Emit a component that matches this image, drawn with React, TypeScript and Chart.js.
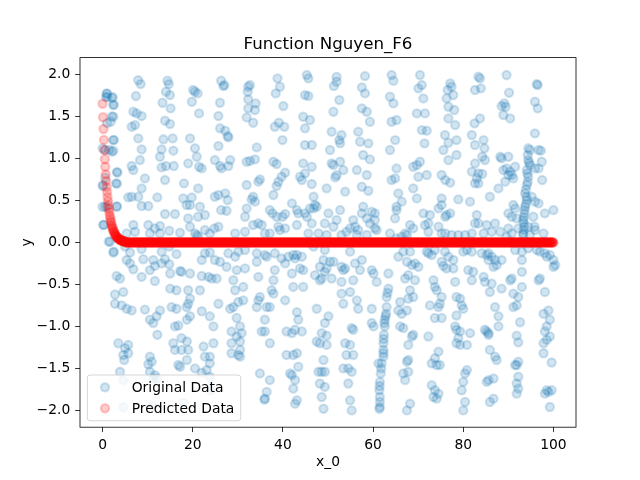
import React, { useEffect, useRef } from "react";
import { Chart, registerables } from "chart.js";

Chart.register(...registerables);

const TITLE = "Function Nguyen_F6";
const X_LABEL = "x_0";
const Y_LABEL = "y";
const LEGEND_LABELS = ["Original Data", "Predicted Data"];
const X_TICKS = [0, 20, 40, 60, 80, 100];
const Y_TICKS = [-2.0, -1.5, -1.0, -0.5, 0.0, 0.5, 1.0, 1.5, 2.0];
const X_RANGE = [-5, 105];
const Y_RANGE = [-2.2, 2.2];

// Original data, read strip by strip (x, y)
const ORIGINAL_A: [number, number][] = [
  [7.9,1.93],[8.45,1.885],[14.4,1.925],[14.7,1.885],[0.91,1.774],[0.76,1.73],[2.24,1.73],[2.4,1.635],[7.4,1.742],[14.07,1.794],
  [14.95,1.754],[13.3,1.663],[15.1,1.596],[6.83,1.556],[7.56,1.536],[8.67,1.504],[2.39,1.496],[1.8,1.437],[6.46,1.377],[7.2,1.397],
  [13.85,1.449],[14.95,1.409],[2.39,1.218],[7.93,1.238],[13.5,1.227],[15.55,1.238],[1.5,1.1],[2.39,1.092],[8.67,1.107],[13.1,1.107],
  [15.7,1.092],[12.74,1.02],[8.3,0.98],[6.46,0.909],[6.83,0.861],[13.1,0.893],[14.07,0.909],[15.8,0.909],[3.28,0.83],[9.4,0.762],
  [13.85,0.742],[3.0,0.703],[0.17,0.671],[8.67,0.643],[18.06,0.703],[5.7,0.536],[6.46,0.544],[7.93,0.544],[12.15,0.536],[17.9,0.524],
  [0.54,0.425],[3.13,0.425],[8.67,0.433],[10.15,0.433],[18.65,0.445],[13.85,0.338],[16.06,0.338],[0.17,0.207],[6.83,0.207],[10.15,0.207],
  [11.6,0.167],[12.74,0.195],[7.2,0.127],[10.5,0.107],[12.74,0.107],[14.8,0.139],[17.2,0.115],[1.65,0.008],[5.35,0.107],[5.0,-0.05],
  [6.1,-0.12],[2.39,-0.12],[8.67,-0.08],[14.8,-0.05],[13.1,-0.11],[16.4,-0.14],[5.35,-0.21],[13.85,-0.2],[11.26,-0.21],[6.1,-0.25],
  [9.04,-0.2],[13.1,-0.25],[14.8,-0.26],[6.83,-0.32],[10.5,-0.33],[11.6,-0.28],[17.5,-0.35],[3.13,-0.4],[3.87,-0.43],[8.67,-0.41],
  [11.6,-0.46],[15.0,-0.37],[17.2,-0.34],[15.0,-0.55],[16.4,-0.57],[4.6,-0.59],[2.76,-0.62],[2.76,-0.73],[4.24,-0.75],[5.35,-0.79],
  [6.46,-0.81],[9.4,-0.8],[12.74,-0.81],[15.3,-0.77],[16.4,-0.79],[18.65,-0.77],[10.5,-0.92],[11.26,-0.96],[12.0,-0.88],[16.06,-1.0],
  [16.8,-0.99],[12.15,-1.1],[17.5,-1.14],[3.5,-1.2],[5.7,-1.22],[5.0,-1.26],[15.7,-1.2],[16.06,-1.28],[17.5,-1.28],[4.6,-1.34],
  [5.7,-1.32],[10.5,-1.36],[10.9,-1.42],[10.15,-1.45],[16.8,-1.46],[3.87,-1.54],[10.5,-1.54],[11.6,-1.58],[4.6,-1.64],[11.26,-1.62],
  [4.6,-1.96],[4.8,-1.4],[12.1,-1.62],[17.2,-1.48],[20.5,-1.5],[22.0,-1.55],[24.0,-1.76],[18.0,-1.91],[11.0,-1.95],
  [1.0,1.77],[1.05,1.73],[2.1,1.72],[2.47,1.64],[2.1,1.5],[1.0,1.42],[0.0,1.12],[0.6,1.1],[2.1,1.08],[2.47,1.22],
  [0.0,0.68],[0.6,0.77],[3.2,0.84],[3.2,0.7],[0.0,0.425],[1.0,0.425],[3.2,0.43],[0.25,0.21],[1.36,0.01],[2.5,-0.11]
];

const ORIGINAL_B: [number, number][] = [
  [20.1,1.814],[20.5,1.794],[21.1,1.774],[19.8,1.675],[21.4,1.536],[26.3,1.925],[27.0,1.873],[26.8,1.86],[26.05,1.663],[25.7,1.504],
  [26.05,1.358],[27.2,1.33],[27.75,1.266],[27.9,1.25],[32.3,1.853],[32.7,1.873],[32.2,1.794],[32.3,1.703],[33.96,1.655],[33.8,1.576],
  [32.3,1.596],[31.96,1.488],[33.4,1.425],[38.8,1.953],[39.35,1.853],[38.4,1.774],[40.1,1.623],[39.1,1.425],[38.2,1.377],[40.3,1.377],
  [39.9,1.218],[19.4,1.238],[20.5,1.12],[20.9,1.02],[21.4,0.901],[22.0,0.881],[19.0,0.941],[25.7,1.147],[24.9,0.98],[26.05,0.909],
  [26.4,0.881],[27.9,0.909],[28.3,0.98],[34.2,1.131],[33.8,0.988],[31.96,0.96],[32.7,0.97],[37.9,0.96],[38.6,0.933],[40.5,0.83],
  [39.7,0.782],[39.0,0.722],[38.6,0.671],[21.2,0.643],[19.8,0.536],[19.4,0.445],[21.6,0.425],[22.7,0.326],[21.2,0.306],[24.9,0.544],
  [25.7,0.564],[27.2,0.584],[27.75,0.504],[26.3,0.385],[27.5,0.377],[31.96,0.683],[33.4,0.544],[33.8,0.485],[33.05,0.512],[31.96,0.405],
  [31.6,0.306],[34.55,0.723],[34.9,0.75],[37.9,0.564],[37.1,0.385],[37.7,0.346],[38.6,0.306],[40.5,0.338],[39.9,0.306],[19.0,0.286],
  [19.4,0.187],[20.5,0.107],[20.9,0.088],[21.2,0.068],[22.7,0.147],[23.8,0.107],[24.8,0.167],[25.7,0.187],[29.4,0.107],[31.6,0.127],
  [33.4,0.207],[34.55,0.227],[35.3,0.207],[36.0,0.107],[37.1,0.107],[39.0,0.187],[39.35,0.147],[40.5,0.167],[22.7,-0.13],[22.0,-0.21],
  [23.8,-0.12],[24.9,-0.21],[26.05,-0.23],[27.9,-0.13],[29.4,-0.17],[30.1,-0.11],[31.6,-0.09],[34.2,-0.13],[36.0,-0.15],[36.4,-0.17],
  [38.2,-0.13],[39.7,-0.19],[41.2,-0.17],[27.5,-0.29],[29.75,-0.33],[31.6,-0.31],[34.2,-0.23],[38.2,-0.33],[40.5,-0.25],[23.5,-0.41],
  [24.2,-0.43],[25.3,-0.43],[22.0,-0.4],[29.0,-0.45],[29.4,-0.57],[31.2,-0.53],[34.55,-0.41],[37.9,-0.45],[37.5,-0.57],[37.9,-0.61],
  [19.4,-0.37],[19.0,-0.57],[19.4,-0.67],[19.0,-0.73],[21.6,-0.57],[25.7,-0.73],[28.3,-0.79],[29.0,-0.77],[30.1,-0.71],[31.2,-0.69],
  [34.2,-0.77],[34.55,-0.69],[34.9,-0.65],[36.4,-0.77],[37.1,-0.77],[40.5,-0.69],[19.4,-0.88],[18.7,-0.92],[22.0,-0.82],[23.8,-0.88],
  [29.75,-0.9],[30.5,-1.0],[30.85,-1.08],[28.6,-1.06],[29.75,-1.12],[30.5,-1.18],[28.6,-1.2],[30.5,-1.28],[30.1,-1.34],[30.5,-1.36],
  [28.6,-1.32],[36.0,-0.92],[35.3,-1.06],[36.0,-1.06],[37.1,-1.2],[24.6,-1.0],[18.7,-1.18],[19.0,-1.28],[18.7,-1.4],[22.4,-1.24],
  [22.7,-1.36],[23.8,-1.36],[24.6,-1.2],[23.8,-1.44],[23.1,-1.52],[23.8,-1.6],[40.8,-1.06],[40.8,-1.34],[41.6,-1.56],[34.9,-1.56],
  [37.1,-1.64],[36.4,-1.78],[36.0,-1.86],[35.9,-1.87]
];

const ORIGINAL_C: [number, number][] = [
  [45.3,1.992],[45.65,1.953],[44.9,1.754],[45.65,1.742],[44.5,1.496],[44.9,1.358],[46.0,1.457],[44.9,1.159],[46.4,1.159],[44.5,0.941],
  [46.4,0.901],[44.2,0.742],[43.8,0.782],[44.9,0.822],[46.4,0.695],[51.9,1.97],[51.9,1.913],[51.3,1.861],[52.5,1.695],[51.2,1.556],
  [50.8,1.318],[53.0,1.278],[52.5,1.218],[52.7,1.179],[50.45,1.1],[50.8,0.941],[51.2,0.921],[52.7,0.96],[51.9,0.8],[51.6,0.774],
  [53.4,0.861],[53.8,0.604],[49.7,0.643],[58.2,1.98],[57.5,1.845],[58.2,1.774],[57.5,1.596],[58.6,1.556],[59.3,1.437],[56.7,1.318],
  [57.1,1.199],[58.95,1.179],[57.8,1.04],[59.3,0.988],[56.4,0.861],[58.6,0.802],[57.5,0.663],[58.95,0.615],[64.1,1.992],[64.5,1.925],
  [63.75,1.734],[64.5,1.655],[64.1,1.437],[65.2,1.457],[63.75,1.1],[64.9,1.218],[65.2,0.881],[64.1,0.742],[64.9,0.762],[65.6,0.584],
  [46.8,0.544],[47.1,0.445],[47.5,0.425],[46.8,0.405],[46.0,0.405],[44.9,0.346],[45.3,0.306],[43.4,0.346],[43.1,0.207],[46.4,0.226],
  [49.3,0.226],[50.1,0.346],[51.9,0.266],[52.7,0.385],[51.2,0.187],[54.1,0.127],[53.0,0.088],[54.9,0.167],[56.0,0.187],[56.7,0.147],
  [57.8,0.425],[57.5,0.346],[59.7,0.365],[60.4,0.346],[58.6,0.286],[60.4,0.266],[59.3,0.226],[60.4,0.167],[58.6,0.088],[56.4,0.088],
  [60.8,0.147],[55.6,0.266],[43.1,0.385],[42.0,0.465],[63.75,0.107],[65.2,0.385],[45.65,0.107],[47.9,0.107],[49.7,0.088],[42.3,-0.15],
  [43.1,-0.15],[44.2,-0.17],[42.7,-0.19],[46.8,-0.05],[49.3,-0.09],[50.45,-0.23],[51.2,-0.23],[49.0,-0.21],[48.2,-0.29],[49.7,-0.31],
  [49.3,-0.35],[44.5,-0.33],[43.8,-0.31],[47.1,-0.39],[48.2,-0.45],[48.6,-0.43],[50.8,-0.43],[53.0,-0.29],[53.4,-0.33],[53.8,-0.31],
  [54.9,-0.11],[56.0,-0.25],[55.6,-0.45],[57.1,-0.33],[57.5,-0.21],[59.7,-0.33],[60.1,-0.37],[60.8,-0.47],[53.0,-0.47],[42.0,-0.37],
  [42.3,-0.53],[44.5,-0.53],[63.4,-0.37],[63.4,-0.55],[63.0,-0.65],[63.0,-0.77],[62.9,-0.85],[62.6,-0.92],[62.6,-1.0],[62.4,-1.1],
  [62.3,-1.2],[62.3,-1.28],[62.3,-1.36],[61.9,-1.44],[61.7,-1.56],[61.5,-1.66],[61.4,-1.76],[61.5,-1.84],[61.5,-1.96],[61.4,-1.98],
  [63.2,-0.6],[62.75,-0.88],[62.5,-0.96],[62.35,-1.15],[62.3,-1.32],[61.8,-1.5],[61.45,-1.71],[61.5,-1.9],
  [59.7,-0.79],[59.7,-0.96],[60.1,-1.0],[61.2,-1.44],[53.0,-0.61],[53.4,-0.73],
  [54.9,-0.59],[56.4,-0.69],[56.7,-0.79],[55.25,-1.02],[55.6,-1.04],[53.8,-1.2],[54.9,-1.22],[54.1,-1.34],[55.6,-1.34],[54.5,-1.5],
  [55.25,-1.54],[54.5,-1.68],[54.9,-1.88],[55.25,-2.0],[53.4,-1.5],[47.5,-0.79],[50.1,-0.88],[49.3,-0.96],[48.6,-1.08],[49.7,-1.11],
  [49.7,-1.22],[48.2,-1.2],[47.5,-1.18],[49.0,-1.4],[47.9,-1.54],[48.6,-1.54],[49.3,-1.54],[48.2,-1.68],[49.3,-1.72],[48.6,-1.84],
  [49.0,-1.98],[43.1,-0.83],[43.4,-0.92],[42.7,-1.04],[44.2,-1.06],[42.0,-1.08],[42.3,-1.34],[43.1,-1.32],[43.4,-1.48],[42.0,-1.58],
  [42.7,-1.64],[42.3,-1.74],[43.1,-1.88],[42.7,-1.92]
];

const ORIGINAL_D: [number, number][] = [
  [70.4,1.992],[70.8,1.873],[70.04,1.834],[71.15,1.714],[69.7,1.536],[71.5,1.536],[70.8,1.337],[71.9,1.33],[71.4,1.179],[77.1,1.893],
  [77.4,1.853],[76.55,1.814],[77.8,1.754],[76.3,1.714],[76.7,1.615],[78.0,1.576],[76.7,1.476],[78.2,1.397],[75.95,1.278],[78.5,1.218],
  [76.7,1.187],[75.6,1.1],[78.5,1.04],[76.7,0.98],[83.35,1.973],[83.7,1.953],[82.6,1.814],[83.9,1.834],[83.7,1.476],[82.5,1.417],
  [81.9,1.278],[84.5,1.218],[82.6,1.159],[84.7,1.12],[84.2,1.02],[82.6,0.941],[81.9,0.842],[83.35,0.822],[84.2,0.814],[83.0,0.762],
  [82.6,0.703],[83.35,0.703],[84.8,0.981],[66.35,0.485],[65.2,0.425],[64.87,0.286],[68.9,0.901],[69.7,0.921],[70.4,0.96],[70.04,0.782],
  [71.9,0.802],[68.9,0.643],[69.7,0.524],[75.2,0.802],[76.0,0.742],[77.1,0.711],[75.2,0.524],[75.2,0.445],[76.3,0.326],[77.1,0.346],
  [76.0,0.306],[78.9,0.512],[81.5,0.485],[74.5,0.405],[71.15,0.346],[72.6,0.326],[72.26,0.226],[71.5,0.207],[68.2,0.207],[68.9,0.167],
  [67.1,0.107],[66.35,0.068],[67.5,0.088],[65.2,0.048],[72.26,0.127],[74.5,0.187],[75.2,0.107],[76.0,0.107],[77.4,0.088],[78.9,0.088],
  [80.4,0.088],[81.9,0.107],[82.6,0.226],[83.35,0.226],[85.2,0.207],[84.5,0.107],[83.0,0.326],[65.6,-0.17],[66.7,-0.11],[68.2,-0.11],
  [67.5,-0.23],[69.3,-0.25],[70.04,-0.29],[68.6,-0.27],[71.9,-0.11],[72.26,-0.13],[73.0,-0.15],[73.7,-0.09],[75.95,-0.11],[76.7,-0.17],
  [77.8,-0.21],[75.2,-0.23],[75.6,-0.28],[76.3,-0.31],[77.8,-0.31],[80.0,-0.11],[80.8,-0.09],[81.9,-0.11],[84.1,-0.13],[85.2,-0.15],
  [85.6,-0.21],[81.1,-0.33],[82.2,-0.35],[81.9,-0.45],[84.5,-0.41],[84.8,-0.47],[67.8,-0.39],[67.1,-0.43],[69.3,-0.45],[68.2,-0.57],
  [68.9,-0.65],[67.8,-0.67],[67.5,-0.81],[73.4,-0.45],[73.7,-0.53],[74.1,-0.57],[75.2,-0.65],[74.8,-0.73],[74.5,-0.77],[73.7,-0.9],
  [75.2,-0.9],[72.6,-0.75],[78.2,-0.47],[78.5,-0.65],[79.3,-0.67],[79.65,-0.75],[80.0,-0.79],[78.5,-0.87],[78.2,-1.0],[66.0,-0.71],
  [65.6,-0.81],[66.35,-0.85],[78.5,-1.04],[79.3,-1.06],[81.5,-1.08],[78.9,-1.14],[79.3,-1.22],[78.5,-1.2],[80.8,-1.22],[66.0,-1.0],
  [66.7,-1.02],[68.9,-1.1],[68.6,-1.12],[72.26,-1.12],[67.8,-1.22],[84.8,-1.04],[85.6,-1.08],[67.8,-1.4],[67.5,-1.42],[73.0,-1.44],
  [74.1,-1.46],[74.8,-1.46],[73.7,-1.38],[74.5,-1.3],[66.7,-1.56],[67.8,-1.54],[67.1,-1.64],[80.4,-1.56],[80.8,-1.52],[80.0,-1.66],
  [79.65,-1.76],[80.4,-1.9],[80.0,-2.0],[73.0,-1.7],[73.7,-1.76],[73.4,-1.84],[74.1,-1.86],[74.5,-1.8],[68.2,-1.92],[67.5,-2.0],
  [85.2,-1.66]
];

const ORIGINAL_E: [number, number][] = [
  [89.6,1.992],[90.15,1.782],[89.1,1.655],[88.5,1.623],[89.4,1.615],[88.9,1.516],[90.4,1.476],[96.3,1.885],[96.5,1.873],[95.9,1.675],
  [96.5,1.596],[95.9,1.298],[88.2,1.02],[88.5,1.0],[90.0,1.02],[88.9,0.861],[89.6,0.881],[90.0,0.802],[90.75,0.802],[91.1,0.762],
  [91.5,0.901],[90.4,0.842],[89.3,0.723],[87.8,0.643],[85.9,0.544],[94.4,1.12],[94.8,1.1],[94.3,1.04],[94.4,0.98],[94.8,0.921],
  [94.1,0.861],[94.4,0.782],[94.1,0.683],[93.7,0.584],[94.1,0.504],[93.7,0.425],[93.55,0.346],[93.3,0.266],[93.55,0.187],[93.3,0.107],
  [93.9,0.63],[94.0,0.54],[93.9,0.46],[93.6,0.385],[93.45,0.3],[93.4,0.23],[93.4,0.15],[94.2,0.82],[94.3,0.72],[94.6,0.95],
  [96.7,1.1],[97.2,1.092],[97.4,0.96],[96.7,0.881],[95.9,0.881],[97.5,0.742],[95.9,0.485],[96.7,0.465],[95.2,0.544],[95.55,0.306],
  [95.8,0.187],[95.9,0.147],[98.1,0.346],[100.0,0.385],[97.8,0.107],[91.1,0.445],[91.5,0.405],[90.0,0.346],[90.75,0.306],[91.85,0.286],
  [87.05,0.226],[88.2,0.127],[86.3,0.127],[90.0,0.167],[90.75,0.107],[89.6,0.068],[92.2,0.167],[93.3,0.088],[94.8,0.088],[94.4,0.187],
  [85.6,-0.13],[86.3,-0.17],[87.05,-0.21],[86.7,-0.29],[87.4,-0.27],[88.5,-0.21],[91.5,-0.09],[93.0,-0.11],[93.0,-0.21],[94.4,-0.07],
  [96.3,-0.09],[97.0,-0.11],[98.1,-0.13],[98.5,-0.17],[99.2,-0.15],[100.0,-0.21],[100.4,-0.27],[100.0,-0.29],[90.75,-0.43],[90.4,-0.45],
  [93.0,-0.35],[93.0,-0.53],[97.0,-0.43],[96.7,-0.45],[98.1,-0.59],[88.5,-0.55],[86.3,-0.49],[85.9,-0.59],[91.1,-0.61],[92.2,-0.65],
  [91.85,-0.75],[91.1,-0.77],[87.05,-0.77],[87.8,-0.88],[87.8,-1.0],[92.6,-0.95],[91.85,-1.11],[92.2,-1.19],[98.9,-0.81],[97.8,-0.85],
  [99.2,-0.92],[98.5,-1.0],[98.1,-1.06],[99.2,-1.12],[97.8,-1.2],[98.5,-1.16],[85.2,-1.06],[85.6,-1.1],[85.9,-1.28],[87.05,-1.36],
  [87.4,-1.4],[85.6,-1.64],[86.7,-1.62],[92.2,-1.42],[91.85,-1.46],[91.5,-1.46],[92.2,-1.6],[91.85,-1.68],[92.2,-1.74],[91.85,-1.8],
  [97.8,-1.32],[99.6,-1.43],[98.5,-1.76],[98.9,-1.78],[99.6,-1.76],[99.2,-1.96],[98.1,-1.8],[85.9,-1.9],[86.7,-1.86]
];

// Predicted data: fast decay near x = 0, then flat at 0
const PREDICTED_HEAD: [number, number][] = [
  [0,1.65],[0.1,1.49],[0.2,1.35],[0.3,1.22],[0.4,1.1],[0.5,0.99],[0.6,0.9],[0.7,0.81],[0.8,0.73],[0.9,0.66],
  [1,0.6],[1.1,0.54],[1.2,0.49],[1.3,0.44],[1.4,0.4],[1.5,0.36],[1.6,0.32],[1.7,0.29],[1.8,0.26],[1.9,0.24],
  [2,0.21],[2.1,0.19],[2.2,0.175],[2.3,0.16],[2.4,0.14],[2.5,0.13],[2.6,0.115],[2.7,0.105],[2.8,0.095],[2.9,0.085],
  [3,0.077],[3.1,0.07],[3.2,0.063],[3.3,0.057],[3.4,0.051],[3.5,0.046],[3.6,0.041],[3.7,0.037],[3.8,0.034],[3.9,0.03],
  [4,0.028],[4.1,0.025],[4.2,0.022],[4.3,0.02],[4.4,0.018],[4.5,0.016],[4.6,0.015],[4.7,0.013],[4.8,0.012],[4.9,0.011],[5,0.01]
];

// x positions of the flat part of the prediction (y is 0 there)
const PREDICTED_TAIL_X: number[] = [
  5.1,5.2,5.3,5.4,5.5,5.6,5.7,5.8,5.9,6,6.1,6.2,6.3,6.4,6.5,6.6,6.7,6.8,6.9,7,
  7.1,7.2,7.3,7.4,7.5,7.6,7.7,7.8,7.9,8,8.1,8.2,8.3,8.4,8.5,8.6,8.7,8.8,8.9,9,
  9.1,9.2,9.3,9.4,9.5,9.6,9.7,9.8,9.9,10,10.1,10.2,10.3,10.4,10.5,10.6,10.7,10.8,10.9,11,
  11.1,11.2,11.3,11.4,11.5,11.6,11.7,11.8,11.9,12,12.1,12.2,12.3,12.4,12.5,12.6,12.7,12.8,12.9,13,
  13.1,13.2,13.3,13.4,13.5,13.6,13.7,13.8,13.9,14,14.1,14.2,14.3,14.4,14.5,14.6,14.7,14.8,14.9,15,
  15.1,15.2,15.3,15.4,15.5,15.6,15.7,15.8,15.9,16,16.1,16.2,16.3,16.4,16.5,16.6,16.7,16.8,16.9,17,
  17.1,17.2,17.3,17.4,17.5,17.6,17.7,17.8,17.9,18,18.1,18.2,18.3,18.4,18.5,18.6,18.7,18.8,18.9,19,
  19.1,19.2,19.3,19.4,19.5,19.6,19.7,19.8,19.9,20,20.1,20.2,20.3,20.4,20.5,20.6,20.7,20.8,20.9,21,
  21.1,21.2,21.3,21.4,21.5,21.6,21.7,21.8,21.9,22,22.1,22.2,22.3,22.4,22.5,22.6,22.7,22.8,22.9,23,
  23.1,23.2,23.3,23.4,23.5,23.6,23.7,23.8,23.9,24,24.1,24.2,24.3,24.4,24.5,24.6,24.7,24.8,24.9,25,
  25.1,25.2,25.3,25.4,25.5,25.6,25.7,25.8,25.9,26,26.1,26.2,26.3,26.4,26.5,26.6,26.7,26.8,26.9,27,
  27.1,27.2,27.3,27.4,27.5,27.6,27.7,27.8,27.9,28,28.1,28.2,28.3,28.4,28.5,28.6,28.7,28.8,28.9,29,
  29.1,29.2,29.3,29.4,29.5,29.6,29.7,29.8,29.9,30,30.1,30.2,30.3,30.4,30.5,30.6,30.7,30.8,30.9,31,
  31.1,31.2,31.3,31.4,31.5,31.6,31.7,31.8,31.9,32,32.1,32.2,32.3,32.4,32.5,32.6,32.7,32.8,32.9,33,
  33.1,33.2,33.3,33.4,33.5,33.6,33.7,33.8,33.9,34,34.1,34.2,34.3,34.4,34.5,34.6,34.7,34.8,34.9,35,
  35.1,35.2,35.3,35.4,35.5,35.6,35.7,35.8,35.9,36,36.1,36.2,36.3,36.4,36.5,36.6,36.7,36.8,36.9,37,
  37.1,37.2,37.3,37.4,37.5,37.6,37.7,37.8,37.9,38,38.1,38.2,38.3,38.4,38.5,38.6,38.7,38.8,38.9,39,
  39.1,39.2,39.3,39.4,39.5,39.6,39.7,39.8,39.9,40,40.1,40.2,40.3,40.4,40.5,40.6,40.7,40.8,40.9,41,
  41.1,41.2,41.3,41.4,41.5,41.6,41.7,41.8,41.9,42,42.1,42.2,42.3,42.4,42.5,42.6,42.7,42.8,42.9,43,
  43.1,43.2,43.3,43.4,43.5,43.6,43.7,43.8,43.9,44,44.1,44.2,44.3,44.4,44.5,44.6,44.7,44.8,44.9,45,
  45.1,45.2,45.3,45.4,45.5,45.6,45.7,45.8,45.9,46,46.1,46.2,46.3,46.4,46.5,46.6,46.7,46.8,46.9,47,
  47.1,47.2,47.3,47.4,47.5,47.6,47.7,47.8,47.9,48,48.1,48.2,48.3,48.4,48.5,48.6,48.7,48.8,48.9,49,
  49.1,49.2,49.3,49.4,49.5,49.6,49.7,49.8,49.9,50,50.1,50.2,50.3,50.4,50.5,50.6,50.7,50.8,50.9,51,
  51.1,51.2,51.3,51.4,51.5,51.6,51.7,51.8,51.9,52,52.1,52.2,52.3,52.4,52.5,52.6,52.7,52.8,52.9,53,
  53.1,53.2,53.3,53.4,53.5,53.6,53.7,53.8,53.9,54,54.1,54.2,54.3,54.4,54.5,54.6,54.7,54.8,54.9,55,
  55.1,55.2,55.3,55.4,55.5,55.6,55.7,55.8,55.9,56,56.1,56.2,56.3,56.4,56.5,56.6,56.7,56.8,56.9,57,
  57.1,57.2,57.3,57.4,57.5,57.6,57.7,57.8,57.9,58,58.1,58.2,58.3,58.4,58.5,58.6,58.7,58.8,58.9,59,
  59.1,59.2,59.3,59.4,59.5,59.6,59.7,59.8,59.9,60,60.1,60.2,60.3,60.4,60.5,60.6,60.7,60.8,60.9,61,
  61.1,61.2,61.3,61.4,61.5,61.6,61.7,61.8,61.9,62,62.1,62.2,62.3,62.4,62.5,62.6,62.7,62.8,62.9,63,
  63.1,63.2,63.3,63.4,63.5,63.6,63.7,63.8,63.9,64,64.1,64.2,64.3,64.4,64.5,64.6,64.7,64.8,64.9,65,
  65.1,65.2,65.3,65.4,65.5,65.6,65.7,65.8,65.9,66,66.1,66.2,66.3,66.4,66.5,66.6,66.7,66.8,66.9,67,
  67.1,67.2,67.3,67.4,67.5,67.6,67.7,67.8,67.9,68,68.1,68.2,68.3,68.4,68.5,68.6,68.7,68.8,68.9,69,
  69.1,69.2,69.3,69.4,69.5,69.6,69.7,69.8,69.9,70,70.1,70.2,70.3,70.4,70.5,70.6,70.7,70.8,70.9,71,
  71.1,71.2,71.3,71.4,71.5,71.6,71.7,71.8,71.9,72,72.1,72.2,72.3,72.4,72.5,72.6,72.7,72.8,72.9,73,
  73.1,73.2,73.3,73.4,73.5,73.6,73.7,73.8,73.9,74,74.1,74.2,74.3,74.4,74.5,74.6,74.7,74.8,74.9,75,
  75.1,75.2,75.3,75.4,75.5,75.6,75.7,75.8,75.9,76,76.1,76.2,76.3,76.4,76.5,76.6,76.7,76.8,76.9,77,
  77.1,77.2,77.3,77.4,77.5,77.6,77.7,77.8,77.9,78,78.1,78.2,78.3,78.4,78.5,78.6,78.7,78.8,78.9,79,
  79.1,79.2,79.3,79.4,79.5,79.6,79.7,79.8,79.9,80,80.1,80.2,80.3,80.4,80.5,80.6,80.7,80.8,80.9,81,
  81.1,81.2,81.3,81.4,81.5,81.6,81.7,81.8,81.9,82,82.1,82.2,82.3,82.4,82.5,82.6,82.7,82.8,82.9,83,
  83.1,83.2,83.3,83.4,83.5,83.6,83.7,83.8,83.9,84,84.1,84.2,84.3,84.4,84.5,84.6,84.7,84.8,84.9,85,
  85.1,85.2,85.3,85.4,85.5,85.6,85.7,85.8,85.9,86,86.1,86.2,86.3,86.4,86.5,86.6,86.7,86.8,86.9,87,
  87.1,87.2,87.3,87.4,87.5,87.6,87.7,87.8,87.9,88,88.1,88.2,88.3,88.4,88.5,88.6,88.7,88.8,88.9,89,
  89.1,89.2,89.3,89.4,89.5,89.6,89.7,89.8,89.9,90,90.1,90.2,90.3,90.4,90.5,90.6,90.7,90.8,90.9,91,
  91.1,91.2,91.3,91.4,91.5,91.6,91.7,91.8,91.9,92,92.1,92.2,92.3,92.4,92.5,92.6,92.7,92.8,92.9,93,
  93.1,93.2,93.3,93.4,93.5,93.6,93.7,93.8,93.9,94,94.1,94.2,94.3,94.4,94.5,94.6,94.7,94.8,94.9,95,
  95.1,95.2,95.3,95.4,95.5,95.6,95.7,95.8,95.9,96,96.1,96.2,96.3,96.4,96.5,96.6,96.7,96.8,96.9,97,
  97.1,97.2,97.3,97.4,97.5,97.6,97.7,97.8,97.9,98,98.1,98.2,98.3,98.4,98.5,98.6,98.7,98.8,98.9,99,
  99.1,99.2,99.3,99.4,99.5,99.6,99.7,99.8,99.9,100
];
const PREDICTED_TAIL_Y = 0;

const FONT = '"DejaVu Sans", "Liberation Sans", sans-serif';
const BLUE = "rgba(31,119,180,0.2)";
const RED = "rgba(255,0,0,0.2)";
const PT_RADIUS = 4.17;
const PT_BORDER = 2.08;

const fmtY = (v: number) => (v < 0 ? "\u2212" : "") + Math.abs(v).toFixed(1);

const decorPlugin = {
  id: "decor",
  afterDatasetsDraw(chart: any) {
    const { ctx, chartArea: a } = chart;
    ctx.save();
    ctx.strokeStyle = "#000";
    ctx.lineWidth = 0.8;
    ctx.strokeRect(a.left, a.top, a.right - a.left, a.bottom - a.top);

    ctx.fillStyle = "#000";
    ctx.textAlign = "center";
    ctx.textBaseline = "alphabetic";
    ctx.font = `16.67px ${FONT}`;
    ctx.fillText(TITLE, (a.left + a.right) / 2, a.top - 9);

    ctx.font = `13.89px ${FONT}`;
    ctx.fillText(X_LABEL, (a.left + a.right) / 2, a.bottom + 39);

    ctx.save();
    ctx.translate(a.left - 49, (a.top + a.bottom) / 2);
    ctx.rotate(-Math.PI / 2);
    ctx.fillText(Y_LABEL, 0, 0);
    ctx.restore();

    const lx = a.left + 7.3;
    const lw = 153.4;
    const lh = 45.7;
    const ly = a.bottom - 6.5 - lh;
    ctx.beginPath();
    ctx.roundRect(lx, ly, lw, lh, 2.8);
    ctx.fillStyle = "rgba(255,255,255,0.8)";
    ctx.fill();
    ctx.strokeStyle = "rgba(204,204,204,0.8)";
    ctx.lineWidth = 1;
    ctx.stroke();

    const rows = [ly + 12.3, ly + 33.3];
    const colors = [BLUE, RED];
    rows.forEach((ry, i) => {
      ctx.beginPath();
      ctx.arc(lx + 17.7, ry, PT_RADIUS, 0, Math.PI * 2);
      ctx.fillStyle = colors[i];
      ctx.fill();
      ctx.strokeStyle = colors[i];
      ctx.lineWidth = PT_BORDER;
      ctx.stroke();
      ctx.fillStyle = "#000";
      ctx.textAlign = "left";
      ctx.font = `13.89px ${FONT}`;
      ctx.fillText(LEGEND_LABELS[i], lx + 44.4, ry + 4.6);
    });
    ctx.restore();
  },
};

export default function App() {
  const ref = useRef<HTMLCanvasElement | null>(null);

  useEffect(() => {
    if (!ref.current) return;
    const original = [
      ...ORIGINAL_A,
      ...ORIGINAL_B,
      ...ORIGINAL_C,
      ...ORIGINAL_D,
      ...ORIGINAL_E,
    ].map(([x, y]) => ({ x, y }));
    const predicted = [
      ...PREDICTED_HEAD.map(([x, y]) => ({ x, y })),
      ...PREDICTED_TAIL_X.map((x) => ({ x, y: PREDICTED_TAIL_Y })),
    ];

    const tickOpts = {
      font: { family: FONT, size: 13.89 },
      color: "#000",
      padding: 4.86,
      autoSkip: false,
      maxRotation: 0,
    };
    const gridOpts = {
      drawOnChartArea: false,
      drawTicks: true,
      tickLength: 4.86,
      tickColor: "#000",
      tickWidth: 0.8,
      color: "#000",
      lineWidth: 0.8,
    };

    const chart = new Chart(ref.current, {
      type: "scatter",
      data: {
        datasets: [
          {
            label: LEGEND_LABELS[1],
            data: predicted,
            pointBackgroundColor: RED,
            pointBorderColor: RED,
            backgroundColor: RED,
            borderColor: RED,
            pointRadius: PT_RADIUS,
            pointBorderWidth: PT_BORDER,
            order: 1,
          },
          {
            label: LEGEND_LABELS[0],
            data: original,
            pointBackgroundColor: BLUE,
            pointBorderColor: BLUE,
            backgroundColor: BLUE,
            borderColor: BLUE,
            pointRadius: PT_RADIUS,
            pointBorderWidth: PT_BORDER,
            order: 2,
          },
        ],
      },
      options: {
        responsive: false,
        animation: false,
        events: [],
        layout: {
          autoPadding: false,
          padding: { left: 0, right: 64, top: 57.6, bottom: 0 },
        },
        plugins: {
          legend: { display: false },
          title: { display: false },
          tooltip: { enabled: false },
        },
        scales: {
          x: {
            type: "linear",
            min: X_RANGE[0],
            max: X_RANGE[1],
            afterBuildTicks: (scale: any) => {
              scale.ticks = X_TICKS.map((v) => ({ value: v }));
            },
            afterFit: (scale: any) => {
              scale.height = 52.8;
            },
            ticks: { ...tickOpts, callback: (v: any) => String(v) },
            grid: gridOpts,
            border: { display: false },
          },
          y: {
            type: "linear",
            min: Y_RANGE[0],
            max: Y_RANGE[1],
            afterBuildTicks: (scale: any) => {
              scale.ticks = Y_TICKS.map((v) => ({ value: v }));
            },
            afterFit: (scale: any) => {
              scale.width = 80;
            },
            ticks: { ...tickOpts, callback: (v: any) => fmtY(Number(v)) },
            grid: gridOpts,
            border: { display: false },
          },
        },
      },
      plugins: [decorPlugin],
    } as any);

    return () => chart.destroy();
  }, []);

  return (
    <div style={{ position: "absolute", left: 0, top: 0, width: 640, height: 480, background: "#fff" }}>
      <canvas ref={ref} width={640} height={480} style={{ display: "block", width: 640, height: 480 }} />
    </div>
  );
}
